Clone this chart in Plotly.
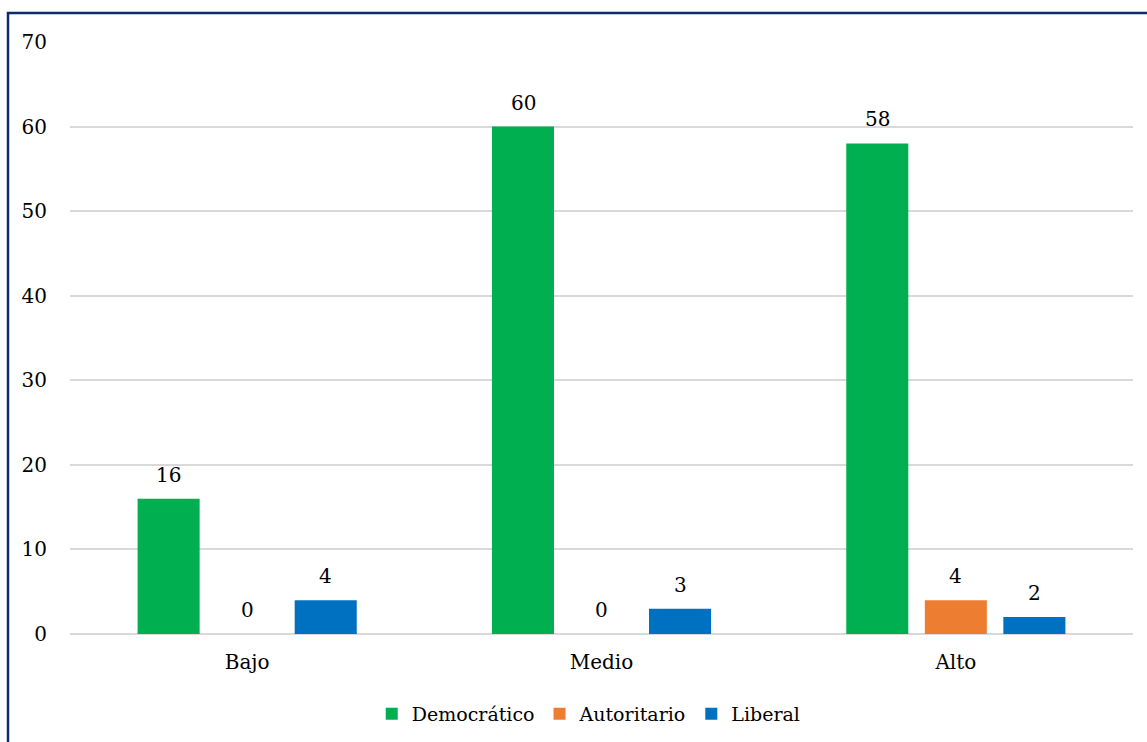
import plotly.graph_objects as go

categories = ["Bajo", "Medio", "Alto"]
democratico = [16, 60, 58]
autoritario = [0, 0, 4]
liberal = [4, 3, 2]
series_names = ["Democrático", "Autoritario", "Liberal"]
colors = ["#00B050", "#ED7D31", "#0070C0"]
y_ticks = [0, 10, 20, 30, 40, 50, 60, 70]

FONT = "DejaVu Serif"
FS = 20

fig = go.Figure()
shifts = [-78.5, 0, 78.5]
annotations = []
for name, vals, col, sh in zip(series_names, [democratico, autoritario, liberal], colors, shifts):
    fig.add_trace(go.Bar(
        x=categories, y=vals, name=name,
        marker=dict(color=col, line=dict(width=0)),
    ))
    for c, v in zip(categories, vals):
        annotations.append(dict(x=c, y=v, xref="x", yref="y", text=str(v), showarrow=False,
                                xshift=sh, yshift=24, yanchor="middle",
                                font=dict(family=FONT, size=FS, color="#000000")))

fig.update_layout(
    width=1147, height=742,
    margin=dict(l=70, r=14, t=42, b=108, autoexpand=False),
    paper_bgcolor="white", plot_bgcolor="white",
    barmode="group", bargap=0.335, bargroupgap=0.21,
    font=dict(family=FONT, size=FS, color="#000000"),
    showlegend=True,
    legend=dict(orientation="h", x=0.488, xanchor="center", y=-0.135, yanchor="middle",
                font=dict(family=FONT, size=19, color="#000000"),
                itemwidth=30, traceorder="normal"),
    xaxis=dict(showline=False, ticks="", showgrid=False, ticklabelstandoff=14,
               tickfont=dict(family=FONT, size=FS, color="#000000")),
    yaxis=dict(range=[0, 70], tickvals=y_ticks, showgrid=True, gridcolor="#D9D9D9",
               gridwidth=1.5, zeroline=True, zerolinecolor="#D9D9D9", zerolinewidth=1.5,
               showline=False, ticks="", ticklabelstandoff=22,
               tickfont=dict(family=FONT, size=FS, color="#000000")),
    annotations=annotations,
    shapes=[dict(type="rect", xref="paper", yref="paper",
                 x0=(8 - 70) / 1063, x1=(1160 - 70) / 1063,
                 y0=(634 - 760) / 592, y1=1 + (42 - 13) / 592,
                 line=dict(color="#0D2A6B", width=2.5), fillcolor="rgba(0,0,0,0)", layer="below")],
)

fig.write_html("out.html")
